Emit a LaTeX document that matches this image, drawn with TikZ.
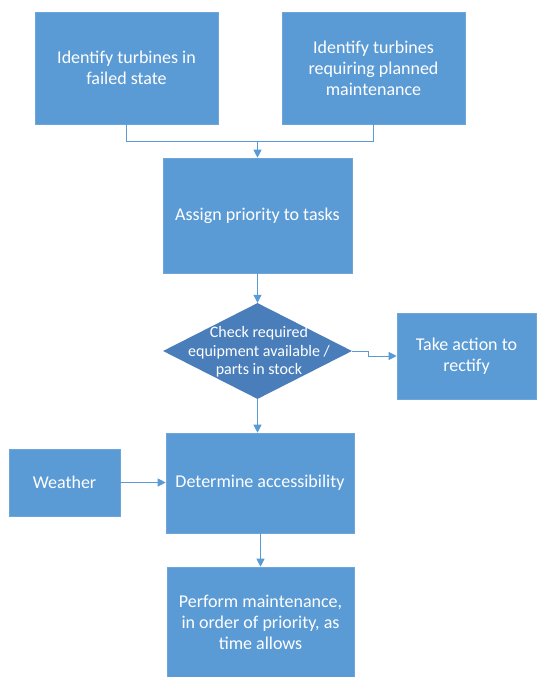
\documentclass[tikz,border=0pt]{standalone}
\usepackage{fontspec}
\setmainfont{Carlito}
\usetikzlibrary{arrows.meta,shapes.geometric}
\definecolor{boxblue}{HTML}{5B9BD5}
\definecolor{boxedge}{HTML}{6FA6DA}
\definecolor{decblue}{HTML}{4A7EBB}
\definecolor{linkblue}{HTML}{5B9BD5}
\begin{document}
\begin{tikzpicture}[x=1pt,y=-1pt,
  stepbox/.style={rectangle,fill=boxblue,draw=boxedge,line width=0.6pt,
    text=white,align=center,inner sep=0pt,font=\fontsize{18}{21}\selectfont},
  decision/.style={diamond,fill=decblue,draw=none,inner sep=0pt},
  dectext/.style={text=white,align=center,inner sep=0pt,font=\fontsize{16}{18.5}\selectfont},
  link/.style={draw=linkblue,line width=1pt},
  arr/.style={link,-{Triangle[length=8pt,width=8pt]}}]
\useasboundingbox (0,0) rectangle (539,677);

\node[stepbox,minimum width=183pt,minimum height=112pt] (fail) at (126.5,68)
  {Identify turbines in\\failed state};
\node[stepbox,minimum width=183pt,minimum height=112pt] (plan) at (373.5,68)
  {Identify turbines\\requiring planned\\maintenance};
\node[stepbox,minimum width=189pt,minimum height=115pt] (prio) at (257.5,215.5)
  {Assign priority to tasks};
\node[decision,minimum width=189pt,minimum height=96pt] (check) at (257.5,351) {};
\node[dectext] (checktxt) at (259,352)
  {Check required\\equipment available /\\parts in stock};
\node[stepbox,minimum width=139pt,minimum height=86pt] (act) at (466.5,356)
  {Take action to\\rectify};
\node[stepbox,minimum width=111pt,minimum height=67pt] (wx) at (64.5,482.5)
  {Weather};
\node[stepbox,minimum width=188pt,minimum height=100pt] (acc) at (260,483)
  {Determine accessibility};
\node[stepbox,minimum width=187pt,minimum height=110pt] (perf) at (260.5,622)
  {Perform maintenance,\\in order of priority, as\\time allows};

% joining the two sources
\coordinate (join) at (257.5,141);
\draw[link] (fail.south) |- (join);
\draw[link] (plan.south) |- (join);
\draw[arr] (join) -- (prio.north);

\draw[arr] (prio.south) -- (check.north);
\draw[arr] (check.east) -- ++(16,0) |- (act.west);
\draw[arr] (check.south) -- (check.south |- acc.north);
\draw[arr] (wx.east) -- (acc.west |- wx.east);
\draw[arr] (acc.south -| perf.north) -- (perf.north);
\end{tikzpicture}
\end{document}
